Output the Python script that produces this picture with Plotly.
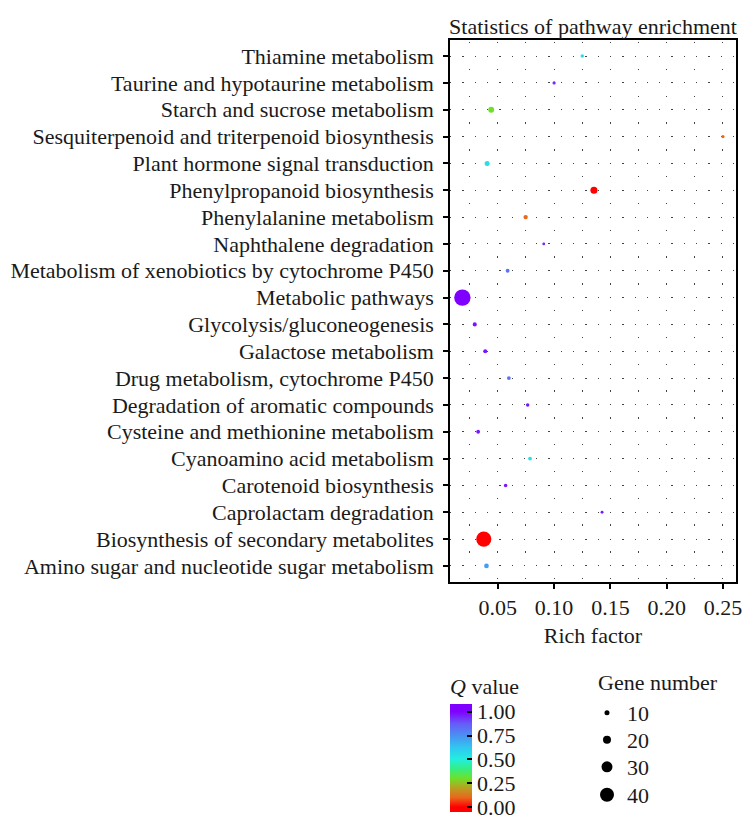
import plotly.graph_objects as go

# ---- data (bottom -> top order on the y axis) ----
pathways = [
    "Amino sugar and nucleotide sugar metabolism",
    "Biosynthesis of secondary metabolites",
    "Caprolactam degradation",
    "Carotenoid biosynthesis",
    "Cyanoamino acid metabolism",
    "Cysteine and methionine metabolism",
    "Degradation of aromatic compounds",
    "Drug metabolism, cytochrome P450",
    "Galactose metabolism",
    "Glycolysis/gluconeogenesis",
    "Metabolic pathways",
    "Metabolism of xenobiotics by cytochrome P450",
    "Naphthalene degradation",
    "Phenylalanine metabolism",
    "Phenylpropanoid biosynthesis",
    "Plant hormone signal transduction",
    "Sesquiterpenoid and triterpenoid biosynthesis",
    "Starch and sucrose metabolism",
    "Taurine and hypotaurine metabolism",
    "Thiamine metabolism",
]
rich_factor = [0.0399, 0.0375, 0.1426, 0.0569, 0.0786, 0.0325, 0.0765, 0.0598, 0.0388, 0.0295,
               0.0185, 0.0587, 0.0908, 0.0747, 0.1354, 0.0405, 0.2500, 0.0441, 0.1000, 0.1250]
q_value = [0.72, 0.00, 0.97, 0.97, 0.55, 0.97, 0.97, 0.82, 0.97, 0.97,
           1.00, 0.82, 0.95, 0.10, 0.00, 0.55, 0.10, 0.30, 0.95, 0.55]
gene_number = [9, 44, 3, 5, 6, 6, 5, 6, 7, 7,
               48, 6, 3, 8, 17, 10, 4, 13, 4, 5]
size_legend = [10, 20, 30, 40]
x_ticks = [0.05, 0.10, 0.15, 0.20, 0.25]
q_ticks = [0.0, 0.25, 0.5, 0.75, 1.0]

FONT = "Liberation Serif"
FS = 22
TXT = "#1a1a1a"

def diam(n):
    return 2.0 + 0.3 * n

# colour gradient (value, colour) and colour-bar range padding
q_stops = [(0.0, "#ff0000"), (0.1, "#e8681c"), (0.2, "#b8a020"), (0.3, "#6ee02a"),
           (0.4, "#34ee84"), (0.5, "#22eede"), (0.62, "#30c8f0"), (0.75, "#4a90f2"),
           (0.88, "#6858f8"), (1.0, "#8000ff")]
cmin, cmax = -0.053, 1.081
colorscale = [[0.0, q_stops[0][1]]]
for v, c in q_stops:
    colorscale.append([(v - cmin) / (cmax - cmin), c])
colorscale.append([1.0, q_stops[-1][1]])

y_idx = list(range(len(pathways)))

fig = go.Figure()
fig.add_trace(go.Scatter(
    x=rich_factor, y=y_idx, mode="markers", showlegend=False,
    marker=dict(
        size=[diam(n) for n in gene_number], sizemode="diameter",
        color=q_value, colorscale=colorscale, cmin=cmin, cmax=cmax,
        line=dict(width=0), opacity=1,
        colorbar=dict(
            title=dict(text="<i>Q</i> value", side="top",
                       font=dict(family=FONT, size=FS, color=TXT)),
            tickvals=q_ticks, ticktext=[f"{t:.2f}" for t in q_ticks],
            tickfont=dict(family=FONT, size=FS, color=TXT),
            ticks="inside", ticklen=5, tickcolor="black", tickwidth=1.5,
            thickness=22, thicknessmode="pixels",
            len=138, lenmode="pixels",
            x=0.0, xanchor="left", xpad=0,
            y=-0.4244, yanchor="bottom", ypad=0,
            outlinewidth=0,
        ),
    ),
))

# size legend: one small legend box per gene-number entry
legend_y = [-0.2417, -0.2915, -0.3413, -0.393]
legend_layouts = {}
for i, s in enumerate(size_legend):
    key = "legend" if i == 0 else f"legend{i + 1}"
    fig.add_trace(go.Scatter(
        x=[None], y=[None], mode="markers", name=str(s),
        marker=dict(size=diam(s), color="black"),
        showlegend=True, legend=key,
    ))
    legend_layouts[key] = dict(
        itemsizing="trace", x=0.479, xanchor="left", y=legend_y[i], yanchor="middle",
        font=dict(family=FONT, size=FS, color=TXT), bgcolor="rgba(0,0,0,0)",
    )

fig.update_layout(
    width=738, height=813,
    margin=dict(l=442, r=10, t=32, b=239, autoexpand=False),
    paper_bgcolor="white", plot_bgcolor="white",
    font=dict(family=FONT, size=FS, color=TXT),
    title=dict(text="Statistics of pathway enrichment", x=0.5, xref="paper",
               xanchor="center", y=1, yref="paper", yanchor="bottom",
               pad=dict(b=6), font=dict(family=FONT, size=FS, color=TXT)),
    annotations=[dict(text="Gene number", xref="paper", yref="paper",
                      x=0.5105, y=-0.1863, xanchor="left", yanchor="middle",
                      showarrow=False, font=dict(family=FONT, size=FS, color=TXT))],
    **legend_layouts,
)

fig.update_xaxes(
    range=[0.0075, 0.2616], tickvals=x_ticks, ticktext=[f"{t:.2f}" for t in x_ticks],
    ticks="outside", ticklen=5, tickwidth=1.5, tickcolor="black",
    showline=True, linecolor="black", linewidth=1.5, mirror=True,
    showgrid=True, gridcolor="#444", gridwidth=1, griddash="0px,2px,1.3px,23.5px",
    minor=dict(tickvals=[0.025, 0.075, 0.125, 0.175, 0.225], showgrid=True,
               gridcolor="#444", gridwidth=1, griddash="0px,2px,1.3px,23.5px", ticks=""),
    zeroline=False,
    title=dict(text="Rich factor", standoff=8, font=dict(family=FONT, size=FS, color=TXT)),
    tickfont=dict(family=FONT, size=FS, color=TXT),
)
fig.update_yaxes(
    range=[-0.6, len(pathways) - 0.4], tickvals=y_idx, ticktext=pathways,
    ticks="outside", ticklen=5, tickwidth=1.5, tickcolor="black",
    ticklabelstandoff=5,
    showline=True, linecolor="black", linewidth=1.5, mirror=True,
    showgrid=True, gridcolor="#444", gridwidth=1, griddash="1.3px,11px",
    zeroline=False,
    tickfont=dict(family=FONT, size=FS, color=TXT),
)

fig.write_html("out.html")
